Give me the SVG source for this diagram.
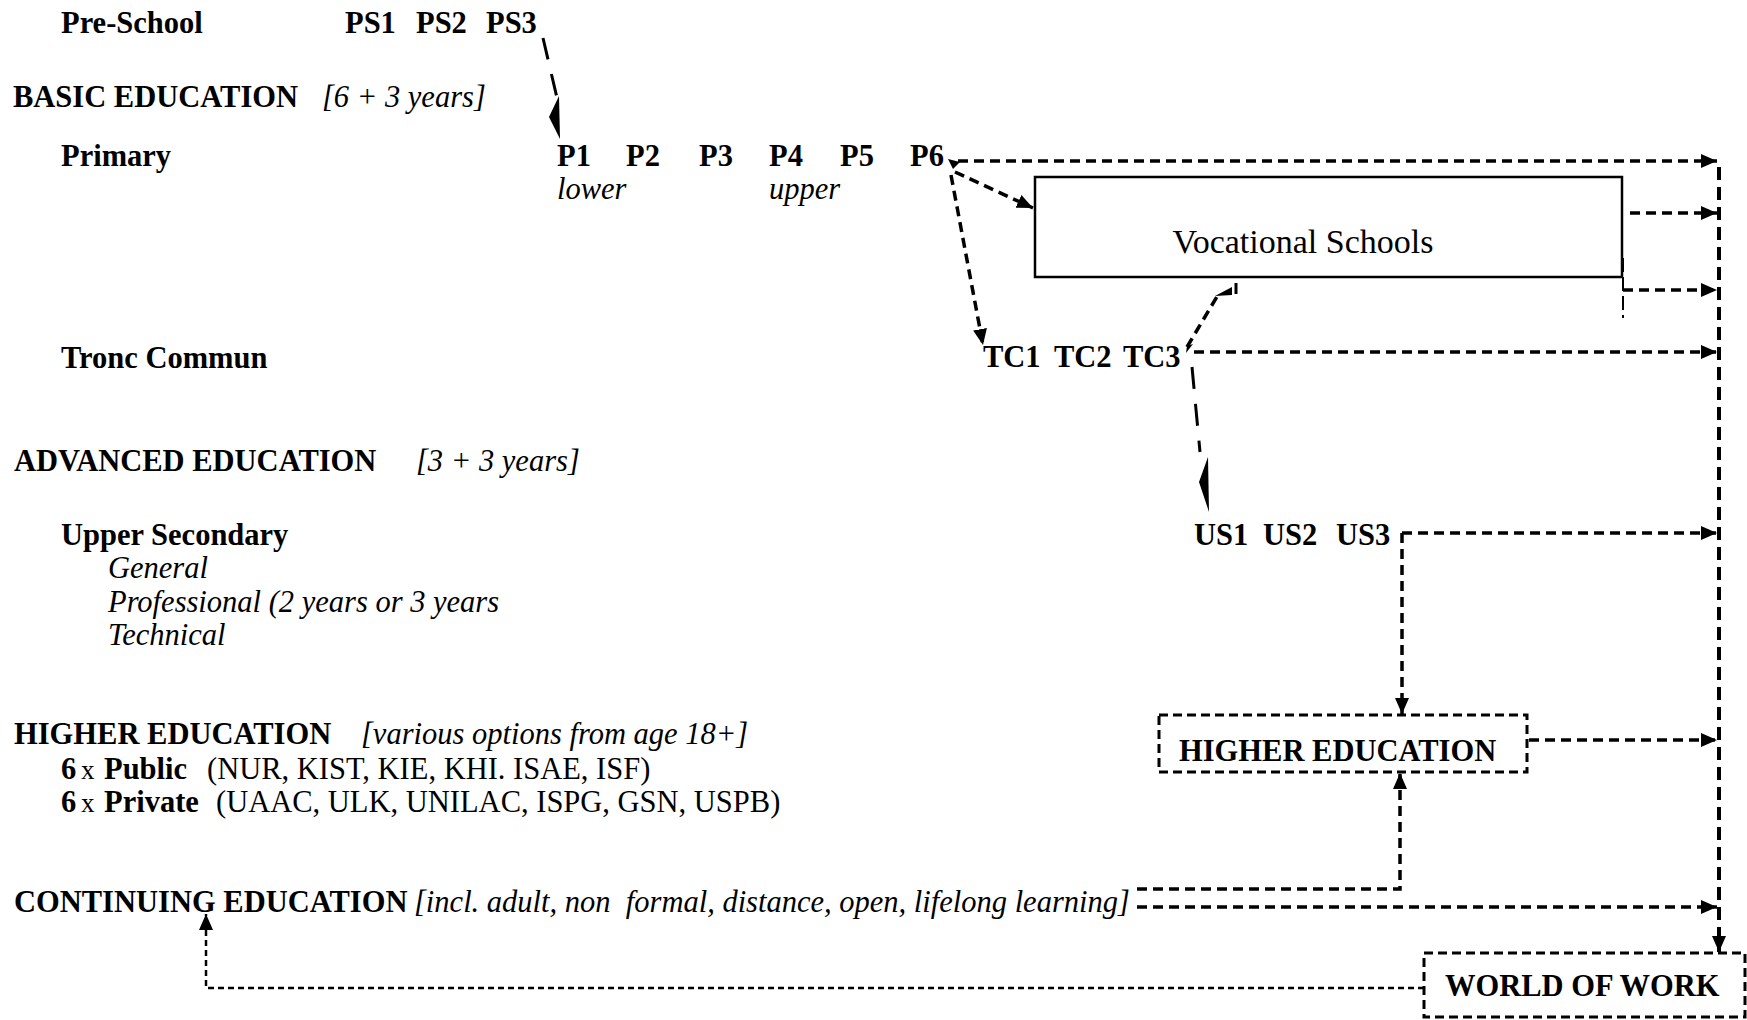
<svg xmlns="http://www.w3.org/2000/svg" width="1747" height="1020" viewBox="0 0 1747 1020">
<style>
text{font-family:"Liberation Serif","Times New Roman",serif;fill:#000;font-size:30.5px}
.b{font-weight:bold}
.i{font-style:italic}
.r{font-weight:normal}
.sm{font-size:27px}
.vs{font-size:34px}
.c{fill:none;stroke:#000;stroke-width:3.5;stroke-dasharray:10 6}
.v{fill:none;stroke:#000;stroke-width:4;stroke-dasharray:13 7}
.ld{fill:none;stroke:#000;stroke-width:3;stroke-dasharray:22 15}
.s{fill:none;stroke:#000;stroke-width:2.5;stroke-dasharray:6 4}
.bx{fill:none;stroke:#000;stroke-width:3;stroke-dasharray:9 5}
</style>
<defs>
<marker id="ah" markerUnits="userSpaceOnUse" markerWidth="17" markerHeight="15" refX="16" refY="7" orient="auto" viewBox="0 0 17 15"><path d="M0,0 L16,7 L0,14 z" fill="#000"/></marker>
</defs>
<rect width="1747" height="1020" fill="#fff"/>

<g id="labels">
<text class="b" x="61" y="33">Pre-School</text>
<text class="b" x="13" y="107">BASIC EDUCATION</text>
<text class="i" x="322" y="107">[6 + 3 years]</text>
<text class="b" x="61" y="166">Primary</text>
<text class="b" x="61" y="368">Tronc Commun</text>
<text class="b" x="14" y="471">ADVANCED EDUCATION</text>
<text class="i" x="416" y="471">[3 + 3 years]</text>
<text class="b" x="61" y="545">Upper Secondary</text>
<text class="i" x="108" y="578">General</text>
<text class="i" x="108" y="612">Professional (2 years or 3 years</text>
<text class="i" x="108" y="645">Technical</text>
<text class="b" x="14" y="744">HIGHER EDUCATION</text>
<text class="i" x="361" y="744">[various options from age 18+]</text>
<text x="61" y="779"><tspan class="b">6</tspan><tspan class="r sm" x="81">x</tspan><tspan class="b" x="104">Public</tspan><tspan class="r" x="207">(NUR, KIST, KIE, KHI. ISAE, ISF)</tspan></text>
<text x="61" y="812"><tspan class="b">6</tspan><tspan class="r sm" x="81">x</tspan><tspan class="b" x="104">Private</tspan><tspan class="r" x="216">(UAAC, ULK, UNILAC, ISPG, GSN, USPB)</tspan></text>
</g>

<g id="preschool"><text class="b" x="345" y="33">PS1</text><text class="b" x="416" y="33">PS2</text><text class="b" x="486" y="33">PS3</text></g>
<g id="primary">
<text class="b" x="557" y="166">P1</text><text class="b" x="626" y="166">P2</text><text class="b" x="699" y="166">P3</text><text class="b" x="769" y="166">P4</text><text class="b" x="840" y="166">P5</text><text class="b" x="910" y="166">P6</text>
<text class="i" x="557" y="199">lower</text><text class="i" x="769" y="199">upper</text>
</g>
<g id="vocational">
<rect x="1035" y="177" width="587" height="100" fill="none" stroke="#000" stroke-width="2.5"/>
<text class="r vs" x="1303" y="253" text-anchor="middle">Vocational Schools</text>
</g>
<g id="tronc"><text class="b" x="983" y="367">TC1</text><text class="b" x="1054" y="367">TC2</text><text class="b" x="1123" y="367">TC3</text></g>
<g id="upper-secondary"><text class="b" x="1194" y="545">US1</text><text class="b" x="1263" y="545">US2</text><text class="b" x="1336" y="545">US3</text></g>
<g id="higher-education">
<rect class="bx" x="1159" y="715" width="368" height="57"/>
<text class="b" x="1179" y="761">HIGHER EDUCATION</text>
</g>
<g id="continuing">
<text class="b" x="14" y="912">CONTINUING EDUCATION</text>
<text class="i" x="414" y="912" xml:space="preserve">[incl. adult, non  formal, distance, open, lifelong learning]</text>
</g>
<g id="world-of-work">
<rect class="bx" x="1424" y="953" width="321" height="64"/>
<text class="b" x="1445" y="996">WORLD OF WORK</text>
</g>

<g id="connectors">
<path class="ld" d="M543,38 L557,98"/>
<polygon points="559,96 549,117 560,139" fill="#000"/>
<path class="c" d="M958,161 H1717" marker-end="url(#ah)"/>
<polygon points="948,159 960,162 953,169" fill="#000"/>
<path class="c" d="M955,172 L1033,208" marker-end="url(#ah)"/>
<path class="c" d="M951,175 L983,345" marker-end="url(#ah)"/>
<path class="c" d="M1630,213 H1717" marker-end="url(#ah)"/>
<path fill="none" stroke="#000" stroke-width="2" stroke-dasharray="14 5" d="M1623,258 V318"/>
<path class="c" d="M1623,290 H1717" marker-end="url(#ah)"/>
<path class="c" d="M1187,347 L1218,295"/>
<polygon points="1215,296 1232,287 1232,295" fill="#000"/>
<path stroke="#000" stroke-width="3" d="M1236,283 V294"/>
<polygon points="1187,346 1193,344 1186,353" fill="#000"/>
<path class="c" d="M1194,352 H1717" marker-end="url(#ah)"/>
<path class="ld" stroke-dasharray="30 21" d="M1192,367 L1200,452"/>
<polygon points="1208,457 1199,482 1209,512" fill="#000"/>
<path class="c" d="M1402,533 H1717" marker-end="url(#ah)"/>
<path class="c" d="M1402,533 V714" marker-end="url(#ah)"/>
<path class="c" d="M1529,740 H1717" marker-end="url(#ah)"/>
<path class="c" d="M1137,889 H1400 V773" marker-end="url(#ah)"/>
<path class="c" d="M1137,907 H1717" marker-end="url(#ah)"/>
<path class="v" d="M1719,167 V952" marker-end="url(#ah)"/>
<path class="s" d="M1424,988 H206 V914" marker-end="url(#ah)"/>
</g>
</svg>
